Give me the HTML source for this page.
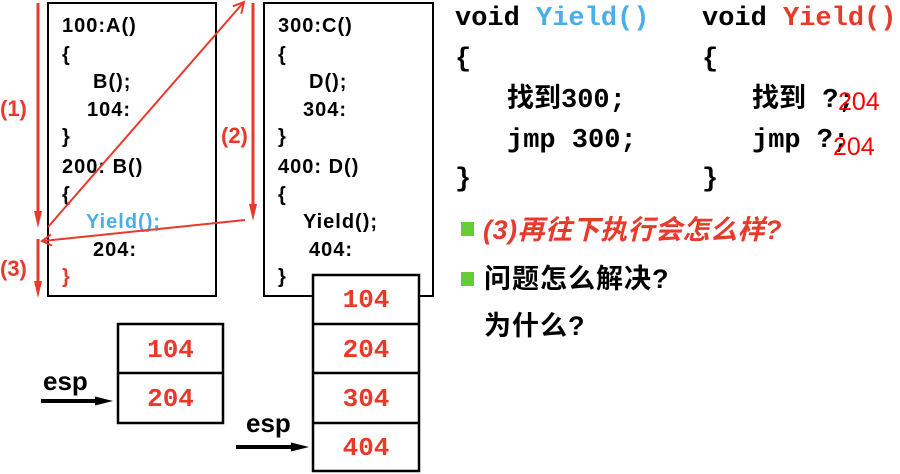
<!DOCTYPE html>
<html>
<head>
<meta charset="utf-8">
<style>
  html,body{margin:0;padding:0;background:#fff;}
  svg{display:block;}
  .c{font-family:"Liberation Sans","Noto Sans CJK SC",sans-serif;font-weight:bold;font-size:20px;letter-spacing:1px;fill:#000;}
  .m{font-family:"Liberation Mono","Noto Sans CJK SC",monospace;font-weight:bold;font-size:27px;fill:#000;}
  .s{font-family:"Liberation Mono",monospace;font-weight:bold;font-size:26px;fill:#e8392b;}
  .lbl{font-family:"Liberation Sans",sans-serif;font-weight:bold;font-size:22px;fill:#e8392b;}
  .cj{font-family:"Liberation Sans","Noto Sans CJK SC",sans-serif;font-weight:bold;font-size:27px;letter-spacing:0.5px;fill:#000;}
</style>
</head>
<body>
<svg width="900" height="474" viewBox="0 0 900 474" xmlns="http://www.w3.org/2000/svg">
  <!-- Box 1 -->
  <rect x="48" y="3" width="168" height="293" fill="#fff" stroke="#000" stroke-width="2"/>
  <text class="c" x="62" y="32">100:A()</text>
  <text class="c" x="62" y="61">{</text>
  <text class="c" x="93" y="88">B();</text>
  <text class="c" x="87" y="116">104:</text>
  <text class="c" x="62" y="143">}</text>
  <text class="c" x="62" y="173">200: B()</text>
  <text class="c" x="62" y="201">{</text>
  <text class="c" x="86" y="228" style="fill:#4aaee8">Yield();</text>
  <text class="c" x="93" y="256">204:</text>
  <text class="c" x="62" y="283" style="fill:#e8392b">}</text>

  <!-- Box 2 -->
  <rect x="264" y="3" width="169" height="293" fill="#fff" stroke="#000" stroke-width="2"/>
  <text class="c" x="278" y="32">300:C()</text>
  <text class="c" x="278" y="61">{</text>
  <text class="c" x="309" y="88">D();</text>
  <text class="c" x="303" y="116">304:</text>
  <text class="c" x="278" y="143">}</text>
  <text class="c" x="278" y="173">400: D()</text>
  <text class="c" x="278" y="201">{</text>
  <text class="c" x="303" y="228">Yield();</text>
  <text class="c" x="309" y="256">404:</text>
  <text class="c" x="278" y="283">}</text>

  <!-- Stack 1 -->
  <rect x="118" y="324" width="105" height="99" fill="#fff" stroke="#000" stroke-width="2.5"/>
  <line x1="118" y1="373" x2="223" y2="373" stroke="#000" stroke-width="2.5"/>
  <text class="s" x="170.5" y="357" text-anchor="middle">104</text>
  <text class="s" x="170.5" y="406" text-anchor="middle">204</text>

  <!-- Stack 2 -->
  <rect x="313" y="275" width="106" height="196" fill="#fff" stroke="#000" stroke-width="2.5"/>
  <line x1="313" y1="324" x2="419" y2="324" stroke="#000" stroke-width="2.5"/>
  <line x1="313" y1="373" x2="419" y2="373" stroke="#000" stroke-width="2.5"/>
  <line x1="313" y1="423" x2="419" y2="423" stroke="#000" stroke-width="2.5"/>
  <text class="s" x="366" y="307" text-anchor="middle">104</text>
  <text class="s" x="366" y="357" text-anchor="middle">204</text>
  <text class="s" x="366" y="406" text-anchor="middle">304</text>
  <text class="s" x="366" y="455" text-anchor="middle">404</text>

  <!-- esp labels/arrows -->
  <text x="43" y="390" style="font-family:'Liberation Sans',sans-serif;font-weight:bold;font-size:26px;fill:#000">esp</text>
  <line x1="41" y1="401" x2="98" y2="401" stroke="#000" stroke-width="4"/>
  <polygon points="95,396.5 113,401 95,405.5" fill="#000"/>
  <text x="246" y="432" style="font-family:'Liberation Sans',sans-serif;font-weight:bold;font-size:26px;fill:#000">esp</text>
  <line x1="236" y1="447" x2="294" y2="447" stroke="#000" stroke-width="4"/>
  <polygon points="291,442.5 309,447 291,451.5" fill="#000"/>

  <!-- Red vertical arrows -->
  <line x1="38" y1="3" x2="38" y2="213" stroke="#e8392b" stroke-width="3"/>
  <polygon points="34,211 42,211 38,228" fill="#e8392b"/>
  <line x1="253" y1="3" x2="253" y2="206" stroke="#e8392b" stroke-width="3"/>
  <polygon points="249,204 257,204 253,221" fill="#e8392b"/>
  <line x1="38" y1="239" x2="38" y2="283" stroke="#e8392b" stroke-width="3"/>
  <polygon points="34,281 42,281 38,298" fill="#e8392b"/>

  <text class="lbl" x="0" y="116">(1)</text>
  <text class="lbl" x="221" y="143">(2)</text>
  <text class="lbl" x="0" y="276">(3)</text>

  <!-- Diagonal arrows -->
  <line x1="48" y1="227" x2="243" y2="3" stroke="#e8392b" stroke-width="2"/>
  <polyline points="241.3,13.7 244,2 232.8,6.3" fill="none" stroke="#e8392b" stroke-width="2"/>
  <line x1="245" y1="220" x2="43" y2="241" stroke="#e8392b" stroke-width="2"/>
  <polyline points="52,245.5 42,241 50.9,234.6" fill="none" stroke="#e8392b" stroke-width="2"/>

  <!-- Right code blocks -->
  <text class="m" x="455" y="25">void <tspan style="fill:#4aaee8">Yield()</tspan></text>
  <text class="m" x="455" y="66">{</text>
  <text class="m" x="507" y="107">找到300;</text>
  <text class="m" x="507" y="147">jmp 300;</text>
  <text class="m" x="455" y="186">}</text>

  <text class="m" x="702" y="25">void <tspan style="fill:#e8392b">Yield()</tspan></text>
  <text class="m" x="702" y="66">{</text>
  <text class="m" x="752" y="107">找到 ?;</text>
  <text class="m" x="752" y="147">jmp ?;</text>
  <text class="m" x="702" y="186">}</text>
  <text x="838" y="110" style="font-family:'Liberation Sans',sans-serif;font-size:25px;fill:#ff0000">204</text>
  <text x="833" y="155" style="font-family:'Liberation Sans',sans-serif;font-size:25px;fill:#ff0000">204</text>

  <!-- Bullets -->
  <rect x="461" y="222" width="13" height="14" fill="#66cc33"/>
  <text class="cj" x="483" y="239" style="fill:#e8392b;font-style:italic">(3)再往下执行会怎么样?</text>
  <rect x="461" y="272" width="13" height="14" fill="#66cc33"/>
  <text class="cj" x="484" y="288" style="letter-spacing:1px">问题怎么解决?</text>
  <text class="cj" x="484" y="335" style="letter-spacing:1px">为什么?</text>
</svg>
</body>
</html>
